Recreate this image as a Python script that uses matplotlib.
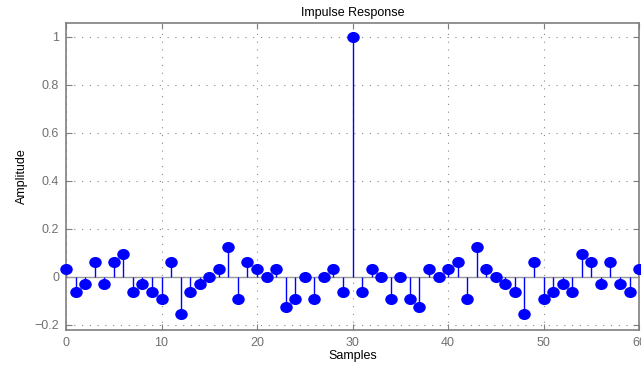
import matplotlib
matplotlib.use("Agg")
import matplotlib.pyplot as plt
import numpy as np
from matplotlib.path import Path
from matplotlib.transforms import Affine2D

# filter taps, symmetric around the centre sample
samples = list(range(61))
amplitude = [
    0.03125, -0.0625, -0.03125, 0.0625, -0.03125, 0.0625, 0.09375, -0.0625,
    -0.03125, -0.0625, -0.09375, 0.0625, -0.15625, -0.0625, -0.03125, 0.0,
    0.03125, 0.125, -0.09375, 0.0625, 0.03125, 0.0, 0.03125, -0.125,
    -0.09375, 0.0, -0.09375, 0.0, 0.03125, -0.0625, 1.0, -0.0625,
    0.03125, 0.0, -0.09375, 0.0, -0.09375, -0.125, 0.03125, 0.0,
    0.03125, 0.0625, -0.09375, 0.125, 0.03125, 0.0, -0.03125, -0.0625,
    -0.15625, 0.0625, -0.09375, -0.0625, -0.03125, -0.0625, 0.09375, 0.0625,
    -0.03125, 0.0625, -0.03125, -0.0625, 0.03125,
]
xticks = [0, 10, 20, 30, 40, 50, 60]
yticks = [-0.2, 0, 0.2, 0.4, 0.6, 0.8, 1]
ytick_labels = ["\u22120.2", "0", "0.2", "0.4", "0.6", "0.8", "1"]

plt.rcParams["font.family"] = ["Liberation Sans", "DejaVu Sans"]
gray = "#7f7f7f"

fig = plt.figure(figsize=(6.41, 3.69), dpi=100)
ax = fig.add_axes([0.103, 0.106, 0.894, 0.832])

# slightly wide ellipse for the stem heads
ellipse = Path.unit_circle().transformed(Affine2D().scale(1.15, 1.0))

ax.axhline(0, color="#9a9a9a", lw=1.0, zorder=1)
ax.vlines(samples, 0, amplitude, color="blue", lw=1.0, zorder=2)
ax.plot(samples, amplitude, ls="none", marker=ellipse, ms=8,
        color="blue", mec="blue", zorder=3, clip_on=False)

ax.set_xlim(0, 60)
ax.set_ylim(-0.222, 1.058)
ax.set_xticks(xticks)
ax.set_yticks(yticks)
ax.set_yticklabels(ytick_labels)

ax.grid(True, color="#8a8a8a", ls=(0, (1, 6)), lw=0.8)
ax.set_axisbelow(True)
for s in ax.spines.values():
    s.set_color(gray)
    s.set_linewidth(1.2)
ax.tick_params(direction="in", length=4, width=0.8, color=gray,
               labelcolor="#707070", labelsize=9, top=True, right=True,
               pad=5)

ax.set_title("Impulse Response", fontsize=9, pad=5)
ax.set_xlabel("Samples", fontsize=9, labelpad=1)
ax.set_ylabel("Amplitude", fontsize=9, labelpad=5)

fig.savefig("out.png", dpi=100)
